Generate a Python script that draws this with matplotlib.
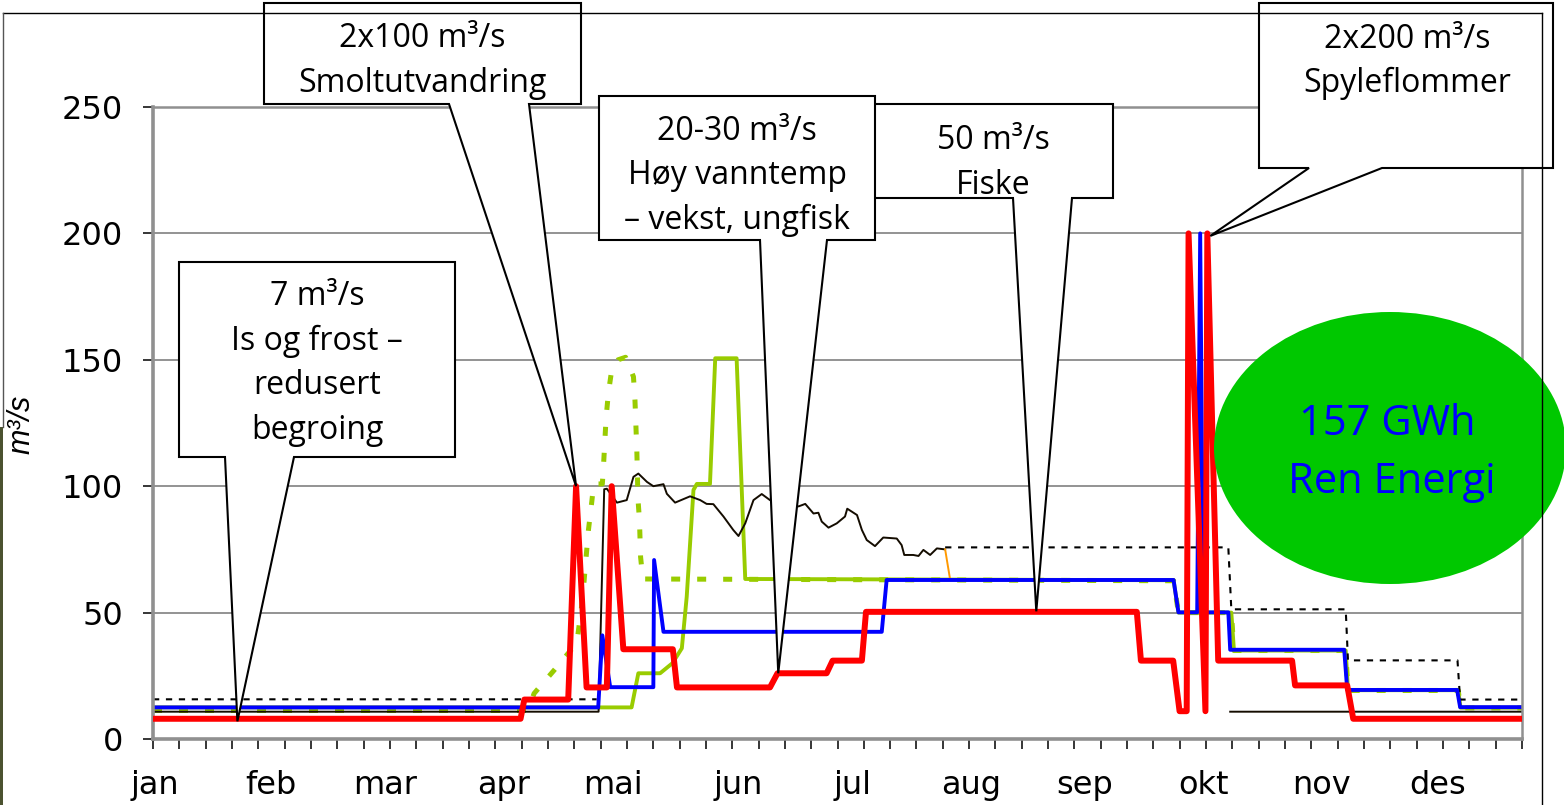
import numpy as np
import matplotlib
matplotlib.use('Agg')
import matplotlib.pyplot as plt
from matplotlib.patches import Polygon, Ellipse, Rectangle

# ---- data (day of year, m3/s) ----
months = ['jan', 'feb', 'mar', 'apr', 'mai', 'jun', 'jul', 'aug', 'sep', 'okt', 'nov', 'des']
month_pos = [0.5, 31.5, 62, 93.5, 122.5, 156, 186.5, 218, 248.5, 280, 311.5, 342.5]

red_day = [0, 98, 99, 110.7, 112.8, 115.6, 121, 122.3, 125.4, 138.6, 139.7, 164.5, 166.5,
           179.6, 181.2, 189, 190.1, 262.3, 263.4, 272, 273.7, 275.6, 276.1, 280.6, 281.1,
           284, 303.7, 304.5, 318.4, 320, 365]
red_val = [8, 8, 15.6, 15.6, 100, 20.4, 20.4, 100, 35.5, 35.5, 20.4, 20.4, 26,
           26, 31, 31, 50.3, 50.3, 31, 31, 11, 11, 200, 11, 200,
           31, 31, 21.2, 21.2, 8, 8]

blue_day = [0, 118.7, 119.8, 121.9, 133.4, 133.6, 136.1, 194.3, 195.6, 272.1, 273.4, 278.4,
            279.2, 280, 286.7, 287.2, 317.6, 318.4, 347.7, 348.5, 365]
blue_val = [12.5, 12.5, 41, 20.5, 20.5, 70.8, 42.4, 42.4, 62.9, 62.9, 50.1, 50.1,
            200, 50.1, 50.1, 35.3, 35.3, 19.4, 19.4, 12.6, 12.6]

gsol_day = [0, 127.6, 129.4, 135.2, 138.5, 141, 142.3, 144.1, 145, 148.5, 149.9, 155.6, 157.9,
            272.1, 273.4, 287.5, 288.2, 318, 318.6, 348, 348.6, 365]
gsol_val = [12.5, 12.5, 26, 26, 30, 35.9, 56.3, 98.5, 100.9, 100.9, 150.6, 150.6, 63.3,
            62.8, 50, 50, 35, 35, 19.3, 19.3, 12.4, 12.4]

gdash_day = [0, 100, 101.6, 107, 113, 114.5, 116.1, 117, 117.5, 119.8, 120.1, 120.8, 121.4,
             122.3, 124, 126, 128.1, 128.5, 129, 129.3, 129.7, 130, 130.6,
             272.1, 273.4, 287.5, 288.2, 318, 318.6, 348, 348.6, 365]
gdash_val = [11.3, 11.3, 18, 27.3, 38, 55, 82.7, 94, 100.9, 100.9, 107.7, 127, 136.7,
             146, 150, 151, 143.3, 134, 114, 95, 86.6, 72, 63.3,
             62.6, 50, 50, 35, 35, 19.2, 19.2, 12.3, 12.3]

dot_day = [0, 118.3, np.nan, 211.2, 286.7, 287.5, 318, 318.6, 347.8, 348.5, 365]
dot_val = [15.7, 15.7, np.nan, 75.8, 75.8, 51.3, 51.3, 31.1, 31.1, 15.6, 15.6]

flow_day = [0, 118.8, 120.3, 121.0, 123.7, 126.3, 128.1, 129.4, 131.7, 133.4, 136.1, 137.0,
            139.2, 143.2, 145.9, 147.6, 149.4, 152.1, 154.7, 156.1, 157.9, 160.1, 162.3,
            164.5, 168, 172.1, 173.9, 176.1, 177.4, 178.3, 180.1, 182.3, 184.5, 185.1,
            187.7, 189.0, 190.3, 192.5, 194.7, 198.3, 199.6, 200.3, 202.7, 204.1, 205.4,
            207.2, 209.0, 211.2, np.nan, 287.2, 365]
flow_val = [10.8, 10.8, 98.8, 99, 93.5, 94.5, 103.7, 105, 101.7, 100, 100.8, 97,
            93.5, 96, 94.5, 93, 92.9, 88, 82.7, 80.3, 85.3, 94.5, 96.9,
            94.5, 94, 92, 93, 89.2, 89.5, 86, 83.6, 85.3, 88, 91.1,
            88.6, 82.7, 78.7, 76.3, 79.7, 79.3, 76.7, 72.8, 72.8, 72.4, 74.8,
            72.8, 75.4, 75, np.nan, 10.8, 10.8]

orange_day = [211.2, 212.5]
orange_val = [75, 63.3]

# callouts: text lines, tip (day, value)
callouts = [
    (['2x100 m\u00b3/s', 'Smoltutvandring'], (112.8, 100)),
    (['7 m\u00b3/s', 'Is og frost \u2013', 'redusert', 'begroing'], (22.5, 7)),
    (['50 m\u00b3/s', 'Fiske'], (235.5, 50.5)),
    (['20-30 m\u00b3/s', 'H\u00f8y vanntemp', '\u2013 vekst, ungfisk'], (166.7, 26)),
    (['2x200 m\u00b3/s', 'Spyleflommer'], (281.9, 199)),
]
# box layout in pixels: x0, x1, y0, y1, wedge x a, wedge x b, text x, first baseline
box_geo = [
    (264, 581, 3, 104, 449, 529, 422, 47),
    (179, 455, 262, 457, 225, 294, 317, 305),
    (874, 1113, 104, 198, 1013, 1072, 993, 149),
    (599, 875, 96, 240, 760, 827, 737, 140),
    (1259, 1553, 3, 168, 1309, 1382, 1407, 48),
]

W, H = 1564, 805
fig = plt.figure(figsize=(W / 100, H / 100), dpi=100)
fig.patch.set_facecolor('white')

ax = fig.add_axes([153 / W, 1 - 739 / H, (1522 - 153) / W, (739 - 107) / H])
ax.set_xlim(0, 365)
ax.set_ylim(0, 250)

ax.plot(gsol_day, gsol_val, color='#99CC00', lw=2.8, zorder=2.1)
ax.plot(gdash_day, gdash_val, color='#99CC00', lw=3.6, dashes=(1.8, 3.4), zorder=2.0)
ax.plot(dot_day, dot_val, color='black', lw=1.5, dashes=(3, 3.2), zorder=2.2)
ax.plot(flow_day, flow_val, color='#140c00', lw=1.4, zorder=2.3)
ax.plot(orange_day, orange_val, color='#FF9900', lw=1.4, zorder=2.3)
ax.plot(blue_day, blue_val, color='#0000FF', lw=2.8, zorder=2.5, solid_joinstyle='round')
ax.plot(red_day, red_val, color='#FF0000', lw=4.3, zorder=3, solid_joinstyle='round',
        solid_capstyle='round')

ax.set_yticks(np.arange(0, 251, 50))
ax.yaxis.grid(True, color='#808080', lw=1.2)
ax.set_axisbelow(True)
ax.set_xticks(np.linspace(0, 365, 53))
ax.set_xticklabels([])
ax.xaxis.remove_overlapping_locs = False
ax.set_xticks(month_pos, minor=True)
ax.set_xticklabels(months, minor=True)
ax.tick_params(axis='x', which='major', length=7.5, width=1.1, color='black', direction='out')
ax.tick_params(axis='x', which='minor', length=0, pad=22, labelsize=23)
ax.tick_params(axis='y', length=7.5, width=1.1, color='black', pad=14, labelsize=23)
for lab in ax.get_xticklabels(minor=True) + ax.get_yticklabels():
    lab.set_fontfamily('DejaVu Sans')
for s in ax.spines.values():
    s.set_color('#909090')
    s.set_linewidth(1.8)
ax.spines['left'].set_linewidth(2.6)
ax.spines['bottom'].set_linewidth(2.6)

# overlay in pixel coordinates for shapes drawn over the chart
ov = fig.add_axes([0, 0, 1, 1], zorder=10)
ov.set_xlim(0, W)
ov.set_ylim(H, 0)
ov.axis('off')
ov.patch.set_alpha(0)

# chart area frame + background strip
ov.plot([3, 1542], [13, 13], color='black', lw=1.0)
ov.plot([3, 3], [13, 427], color='#555555', lw=1.0)
ov.plot([1542, 1542], [13, H], color='black', lw=1.0)
ov.add_patch(Rectangle((0, 427), 3, H - 427, color='#4b5230', lw=0))

ov.text(22, 424, 'm\u00b3/s', rotation=90, ha='center', va='center', fontsize=22,
        style='italic', family='Liberation Sans')

fig.canvas.draw()
txt_font = dict(family='Open Sans', fontsize=23, color='black', ha='center', va='baseline')
for (lines, tip), (x0, x1, y0, y1, wa, wb, tx, by) in zip(callouts, box_geo):
    px, py = ax.transData.transform(tip)
    py = H - py
    poly = Polygon([(x0, y0), (x1, y0), (x1, y1), (wb, y1), (px, py), (wa, y1), (x0, y1)],
                   closed=True, facecolor='white', edgecolor='black', lw=1.5, joinstyle='miter')
    ov.add_patch(poly)
    for i, line in enumerate(lines):
        ov.text(tx, by + i * 44.5, line, **txt_font)

ov.add_patch(Ellipse((1390, 448), 352, 272, facecolor='#00C800', edgecolor='none'))
ov.text(1387, 435, '157 GWh', family='Open Sans', fontsize=30, color='#0000FF',
        ha='center', va='baseline')
ov.text(1392, 493, 'Ren Energi', family='Open Sans', fontsize=30, color='#0000FF',
        ha='center', va='baseline')

fig.savefig('out.png', dpi=100)
